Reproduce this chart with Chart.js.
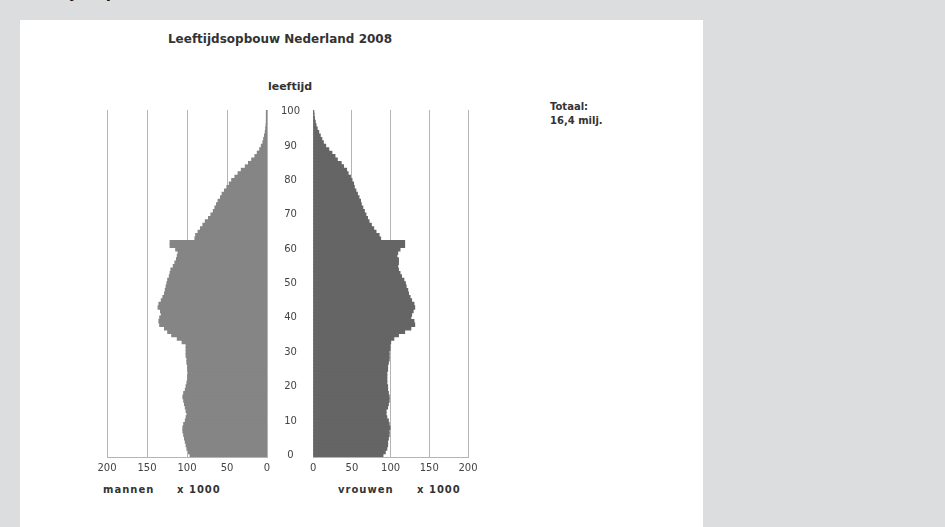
<!DOCTYPE html>
<html>
<head>
<meta charset="utf-8">
<script src="https://cdn.jsdelivr.net/npm/chart.js@4/dist/chart.umd.min.js"></script>
<style>
  body { margin: 0; width: 945px; height: 527px; background: #dcdddf; position: relative; overflow: hidden; font-family: "DejaVu Sans", Verdana, sans-serif; }
  #paneel { position: absolute; left: 20px; top: 20px; width: 683px; height: 507px; background: #fff; }
  .t { position: absolute; color: #333; white-space: nowrap; }
  .b { font-weight: bold; }
  canvas { position: absolute; }
</style>
</head>
<body>
<div class="t b" style="left:22px;top:-16px;font-size:15px;color:#111;">Leeftijdsopbouw Nederland, 2008</div>
<div id="paneel"></div>
<div class="t b" style="left:0;width:560px;text-align:center;top:32px;font-size:12px;">Leeftijdsopbouw Nederland 2008</div>
<div class="t b" style="left:240px;width:100px;text-align:center;top:80px;font-size:11px;">leeftijd</div>
<div class="t b" style="left:550px;top:100px;font-size:10px;line-height:14px;">Totaal:<br>16,4 milj.</div>
<div class="t b" style="left:103px;top:484px;font-size:10px;letter-spacing:1px;">mannen</div>
<div class="t b" style="left:177px;top:484px;font-size:10px;letter-spacing:1px;">x 1000</div>
<div class="t b" style="left:338px;top:484px;font-size:10px;letter-spacing:1px;">vrouwen</div>
<div class="t b" style="left:417px;top:484px;font-size:10px;letter-spacing:1px;">x 1000</div>
<canvas id="links" style="left:60px;top:100px;width:253px;height:380px;" width="253" height="380"></canvas>
<canvas id="rechts" style="left:305px;top:100px;width:208px;height:380px;" width="208" height="380"></canvas>
<script>
// leeftijden 0 t/m 100
const leeftijden = [];
for (let i = 0; i <= 100; i++) leeftijden.push(i);

// aantallen x 1000
const mannen = [
  96, 98, 100, 101, 102, 103, 104, 105, 105, 104,
  102, 101, 100, 101, 102, 103, 104, 105, 104, 102,
  101, 100, 99, 99, 98, 99, 99, 100, 100, 101,
  101, 101, 101, 106, 112, 119, 124, 128, 134, 135,
  134, 132, 133, 136, 135, 132, 130, 128, 127, 126,
  125, 124, 122, 121, 120, 117, 115, 113, 112, 111,
  114, 121, 121, 90, 89, 86, 83, 80, 77, 73,
  70, 67, 65, 63, 61, 58, 56, 53, 50, 47,
  44, 40, 36, 32, 27, 23, 19, 15, 12, 9,
  7, 5, 4, 3, 2, 1.5, 1, 0.7, 0.5, 0.3,
  0.2
];
const vrouwen = [
  90, 93, 95, 96, 96, 97, 98, 98, 99, 98,
  97, 95, 94, 94, 96, 97, 98, 98, 97, 96,
  96, 95, 95, 95, 95, 96, 96, 97, 98, 98,
  98, 99, 99, 100, 104, 110, 118, 126, 131, 130,
  126, 127, 129, 131, 130, 127, 125, 123, 122, 120,
  119, 117, 114, 112, 110, 109, 110, 110, 108, 109,
  112, 118, 118, 87, 85, 81, 78, 75, 72, 70,
  68, 66, 64, 62, 61, 59, 57, 55, 53, 52,
  50, 48, 45, 43, 39, 36, 31, 28, 24, 20,
  16, 13, 11, 9, 7, 5, 3.5, 2.5, 1.5, 1,
  0.5
];
const xTicks = [0, 50, 100, 150, 200];

const tickFont = { family: 'DejaVu Sans', size: 10 };

function xAs(omgekeerd) {
    return {
        type: 'linear',
        min: 0,
        max: 200,
        reverse: omgekeerd,
        afterBuildTicks: function(axis) {
            axis.ticks = xTicks.map(v => ({ value: v }));
        },
        afterFit: function(axis) { axis.height = 23; },
        grid: { color: '#b4b4b4', drawTicks: false },
        border: { display: true, color: '#b4b4b4' },
        ticks: { font: tickFont, color: '#444', padding: 5 }
    };
}

// Linkerhelft: mannen, met leeftijd-as rechts
new Chart(document.getElementById('links'), {
    type: 'bar',
    data: {
        labels: leeftijden,
        datasets: [{
            data: mannen,
            backgroundColor: '#858585',
            borderWidth: 0,
            inflateAmount: 0.6,
            barPercentage: 1,
            categoryPercentage: 1
        }]
    },
    options: {
        indexAxis: 'y',
        responsive: false,
        animation: false,
        layout: { padding: { left: 47, top: 10, right: 0, bottom: 0 } },
        plugins: { legend: { display: false }, tooltip: { enabled: false } },
        scales: {
            x: xAs(true),
            y: {
                position: 'right',
                reverse: true,
                afterFit: function(axis) {
                    axis.width = 46;
                    axis.paddingTop = 0;
                    axis.paddingBottom = 0;
                },
                grid: { display: false, drawTicks: false },
                border: { display: false },
                ticks: {
                    autoSkip: false,
                    crossAlign: 'center',
                    padding: 14,
                    font: tickFont,
                    color: '#444',
                    callback: function(val) {
                        const l = this.getLabelForValue(val);
                        return l % 10 === 0 ? String(l) : null;
                    }
                }
            }
        }
    }
});

// Rechterhelft: vrouwen
new Chart(document.getElementById('rechts'), {
    type: 'bar',
    data: {
        labels: leeftijden,
        datasets: [{
            data: vrouwen,
            backgroundColor: '#656565',
            borderWidth: 0,
            inflateAmount: 0.6,
            barPercentage: 1,
            categoryPercentage: 1
        }]
    },
    options: {
        indexAxis: 'y',
        responsive: false,
        animation: false,
        layout: { padding: { left: 0, top: 10, right: 45, bottom: 0 } },
        plugins: { legend: { display: false }, tooltip: { enabled: false } },
        scales: {
            x: xAs(false),
            y: { display: false, reverse: true }
        }
    }
});
</script>
</body>
</html>
